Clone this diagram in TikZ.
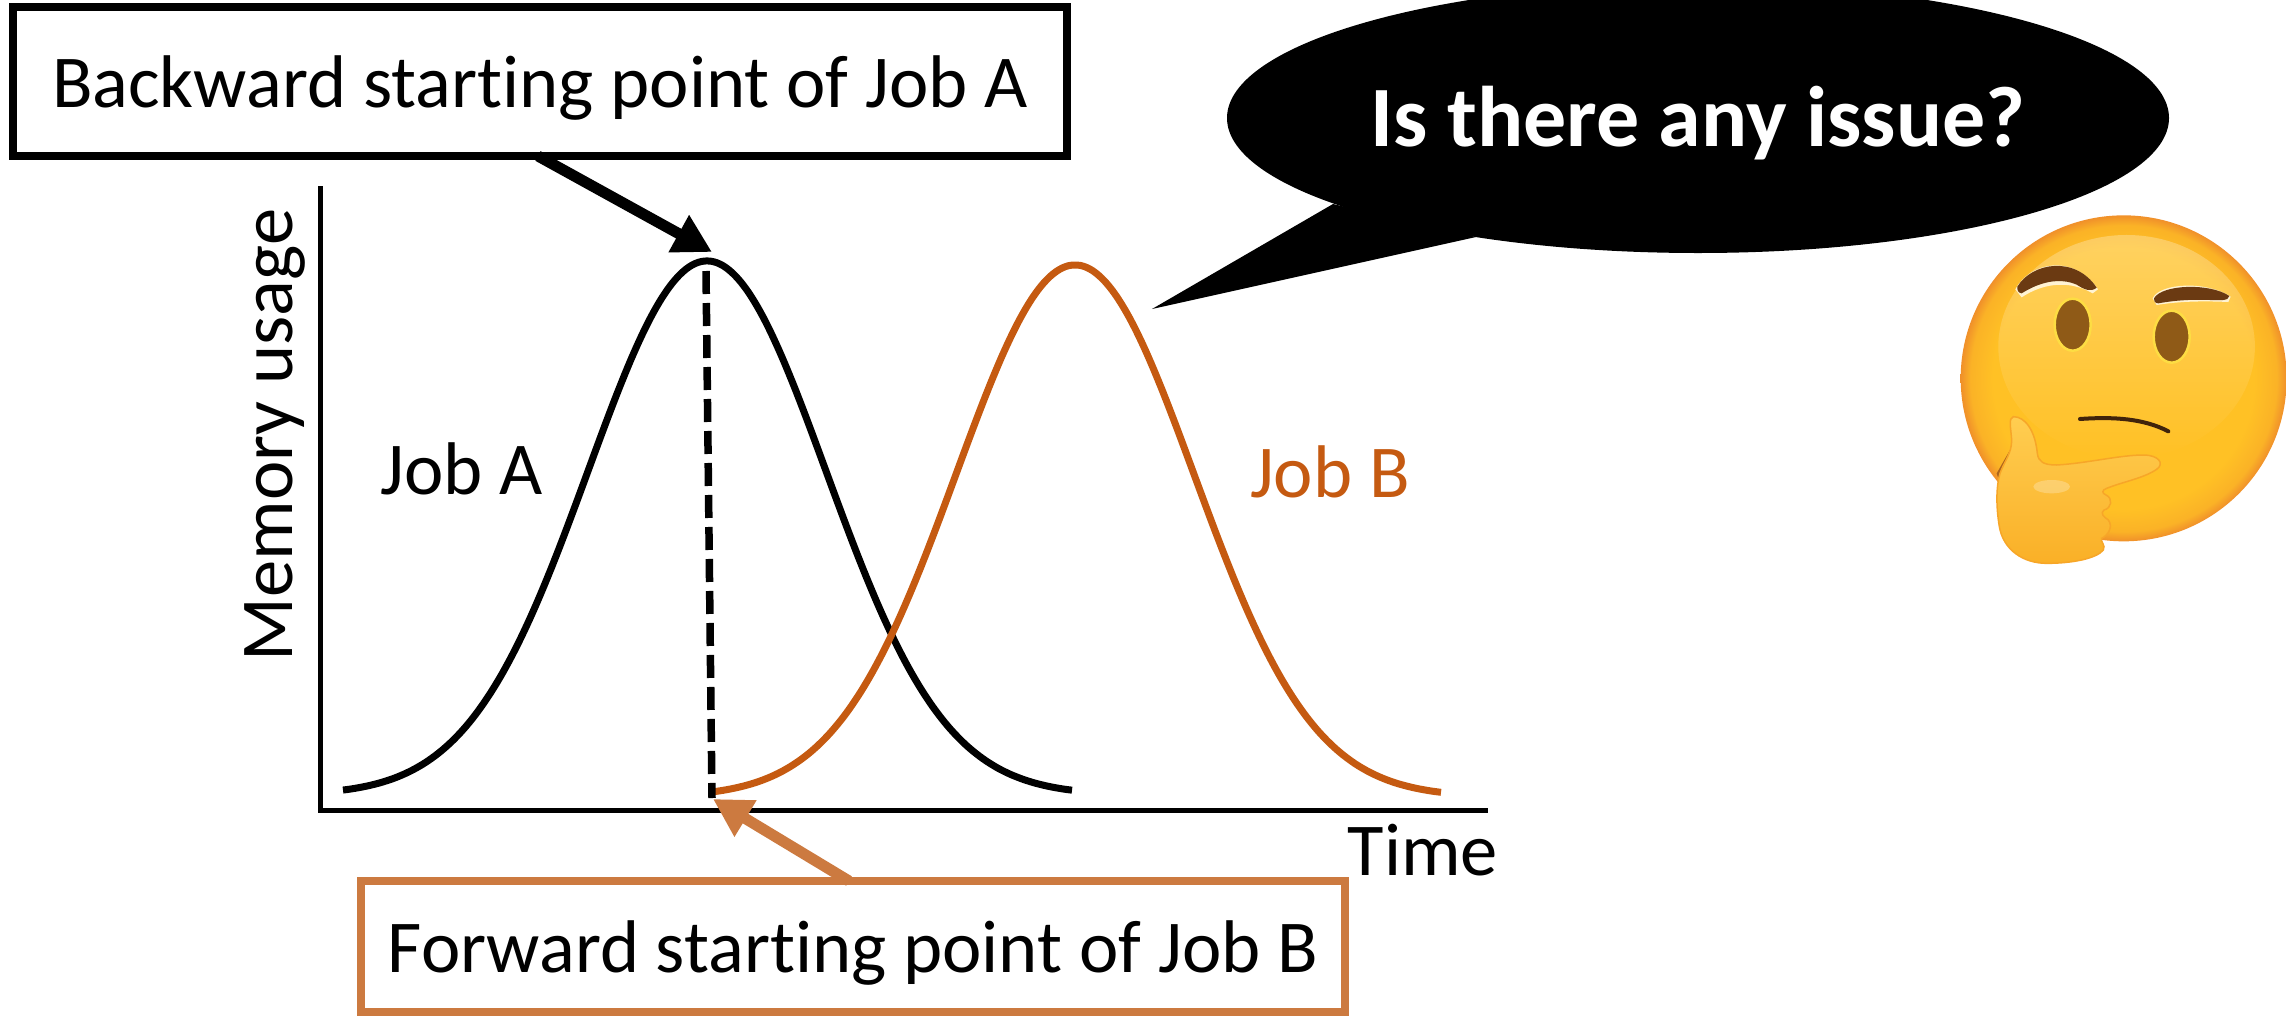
\documentclass[tikz,border=0pt]{standalone}
\usepackage{fontspec}
\setmainfont[Ligatures=NoCommon]{Carlito}
\usetikzlibrary{arrows.meta,shapes.geometric,fadings}
\definecolor{joborange}{HTML}{C55A11}
\definecolor{boxorange}{HTML}{CC7A40}
\definecolor{faceY}{HTML}{FFC125}
\definecolor{faceO}{HTML}{F0902A}
\definecolor{browB}{HTML}{6B3A12}
\definecolor{eyeB}{HTML}{8F5A17}
\pgfdeclareradialshading{facesh}{\pgfpoint{0bp}{0bp}}{color(0bp)=(faceY); color(20bp)=(faceY); color(23.5bp)=(faceY!70!faceO); color(25bp)=(faceO); color(50bp)=(faceO)}
\tikzset{
  lab/.style={font=\fontsize{74.6}{85}\selectfont},
  labelbox/.style={lab,draw,line width=8pt,rectangle,fill=white,inner sep=0pt,text height=60pt,text depth=9pt,align=center},
  axisline/.style={line width=5pt,line cap=rect},
  bell/.style={line width=7pt},
  callout/.style={line width=11pt,-{Triangle[length=38pt,width=40pt]}},
}
\begin{document}
\begin{tikzpicture}[x=1pt,y=-1pt]
\useasboundingbox (0,0) rectangle (2287,1015);
\clip (0,0) rectangle (2287,1015);
% axes
\coordinate (origin) at (320,810);
\coordinate (ytop) at (320,188);
\coordinate (xend) at (1485,810);
\draw[axisline] (ytop) -- (origin) -- (xend);
% curves
\draw[bell,black] plot[domain=343:1072,samples=120,smooth] (\x,{795-534*exp(-((\x-707)/119)^2/2)});
\draw[bell,joborange] plot[domain=714:1441,samples=120,smooth] (\x,{797-532*exp(-((\x-1075)/119)^2/2)});
% dashed
\coordinate (dashtop) at (706,271);
\coordinate (dashbot) at (712,798);
\draw[line width=7.5pt,dash pattern=on 23pt off 9pt] (dashtop) -- (dashbot);
% labels
\node[lab,anchor=base] (joba) at (462,494) {Job A};
\node[lab,anchor=base,text=joborange] (jobb) at (1330,497) {Job B};
\node[lab,anchor=base] (time) at (1423,875) {Time};
\node[lab,anchor=base,rotate=90] (mem) at (292,435) {Memory usage};
% boxes
\node[labelbox,minimum width=1054pt,minimum height=149pt] (boxa) at (540,81.5) {Backward starting point of Job A};
\node[labelbox,draw=boxorange,minimum width=984pt,minimum height=131pt] (boxb) at (853,946.5) {Forward starting point of Job B};
% arrows
\coordinate (peaka) at (712,252);
\coordinate (startb) at (713,799);
\draw[callout] (boxa.south west) ++(529,-4) -- (peaka);
\draw[callout,boxorange] (boxb.north west) ++(492,4) -- (startb);
% bubble
\coordinate (tailtip) at (1152,309);
\fill[black] (tailtip) -- (1333,204) -- (1476,237) -- cycle;
\node[ellipse,fill=black,minimum width=942pt,minimum height=270pt,inner sep=0pt] (bubble) at (1698,118) {};
\node[anchor=base,text=white,font=\bfseries\fontsize{86}{95}\selectfont] (issue) at (1698,146) {Is there any issue?};
% emoji
\begin{scope}[shift={(1900,190)},scale=1/3]
  \shade[shading=facesh] (671,565) circle[radius=489];
  \fill[white,opacity=.28,path fading=south] (680,470) ellipse[x radius=385,y radius=335];
  % eyebrows
  \fill[white!80!faceY] (346,298) .. controls (390,215) and (520,190) .. (594,298) -- (578,310) .. controls (500,265) and (420,285) .. (365,322) -- cycle;
  \fill[browB] (352,290) .. controls (395,218) and (525,195) .. (590,293) .. controls (572,308) and (552,298) .. (530,284) .. controls (480,262) and (420,275) .. (365,310) .. controls (355,310) and (350,298) .. (352,290) -- cycle;
  \fill[white!80!faceY] (758,325) .. controls (780,278) and (920,272) .. (992,320) -- (985,336) .. controls (900,332) and (830,335) .. (770,345) -- cycle;
  \fill[browB] (762,325) .. controls (785,283) and (930,278) .. (988,318) .. controls (985,334) and (960,330) .. (930,330) .. controls (880,328) and (830,330) .. (775,340) .. controls (765,340) and (760,332) .. (762,325) -- cycle;
  % eyes
  \draw[line width=2.5pt,draw=yellow!45!faceY!80!white,fill=eyeB] (518,404) ellipse[x radius=54,y radius=78];
  \draw[line width=2.5pt,draw=yellow!45!faceY!80!white,fill=eyeB] (815,440) ellipse[x radius=54,y radius=78];
  % mouth
  \draw[line width=4pt,line cap=round,color=browB!60!black] (540,687) .. controls (640,680) and (730,685) .. (805,724);
  % hand
  \fill[browB!50!faceO] (330,780) -- (290,850) -- (300,880) -- (340,830) -- cycle;
  \shade[top color=faceY!80!white,bottom color=faceO!35!faceY,draw=faceO!55!faceY,line width=1.5pt]
    (340,680) .. controls (375,680) and (405,720) .. (412,790) .. controls (415,815) and (430,825) .. (470,825)
    .. controls (560,820) and (660,795) .. (730,795) .. controls (775,795) and (795,820) .. (770,838)
    .. controls (730,865) and (670,875) .. (620,895) .. controls (605,900) and (605,910) .. (618,915)
    .. controls (640,925) and (635,955) .. (612,960) .. controls (600,970) and (610,980) .. (625,990)
    .. controls (640,1010) and (625,1035) .. (605,1045) .. controls (600,1055) and (618,1065) .. (610,1080)
    .. controls (590,1105) and (520,1120) .. (440,1120) .. controls (370,1120) and (310,1080) .. (298,1010)
    .. controls (288,950) and (288,890) .. (300,850) .. controls (315,810) and (335,790) .. (335,750)
    .. controls (332,710) and (325,685) .. (340,680) -- cycle;
  \fill[white,opacity=.25] (455,890) ellipse[x radius=55,y radius=20];
\end{scope}
\end{tikzpicture}
\end{document}
